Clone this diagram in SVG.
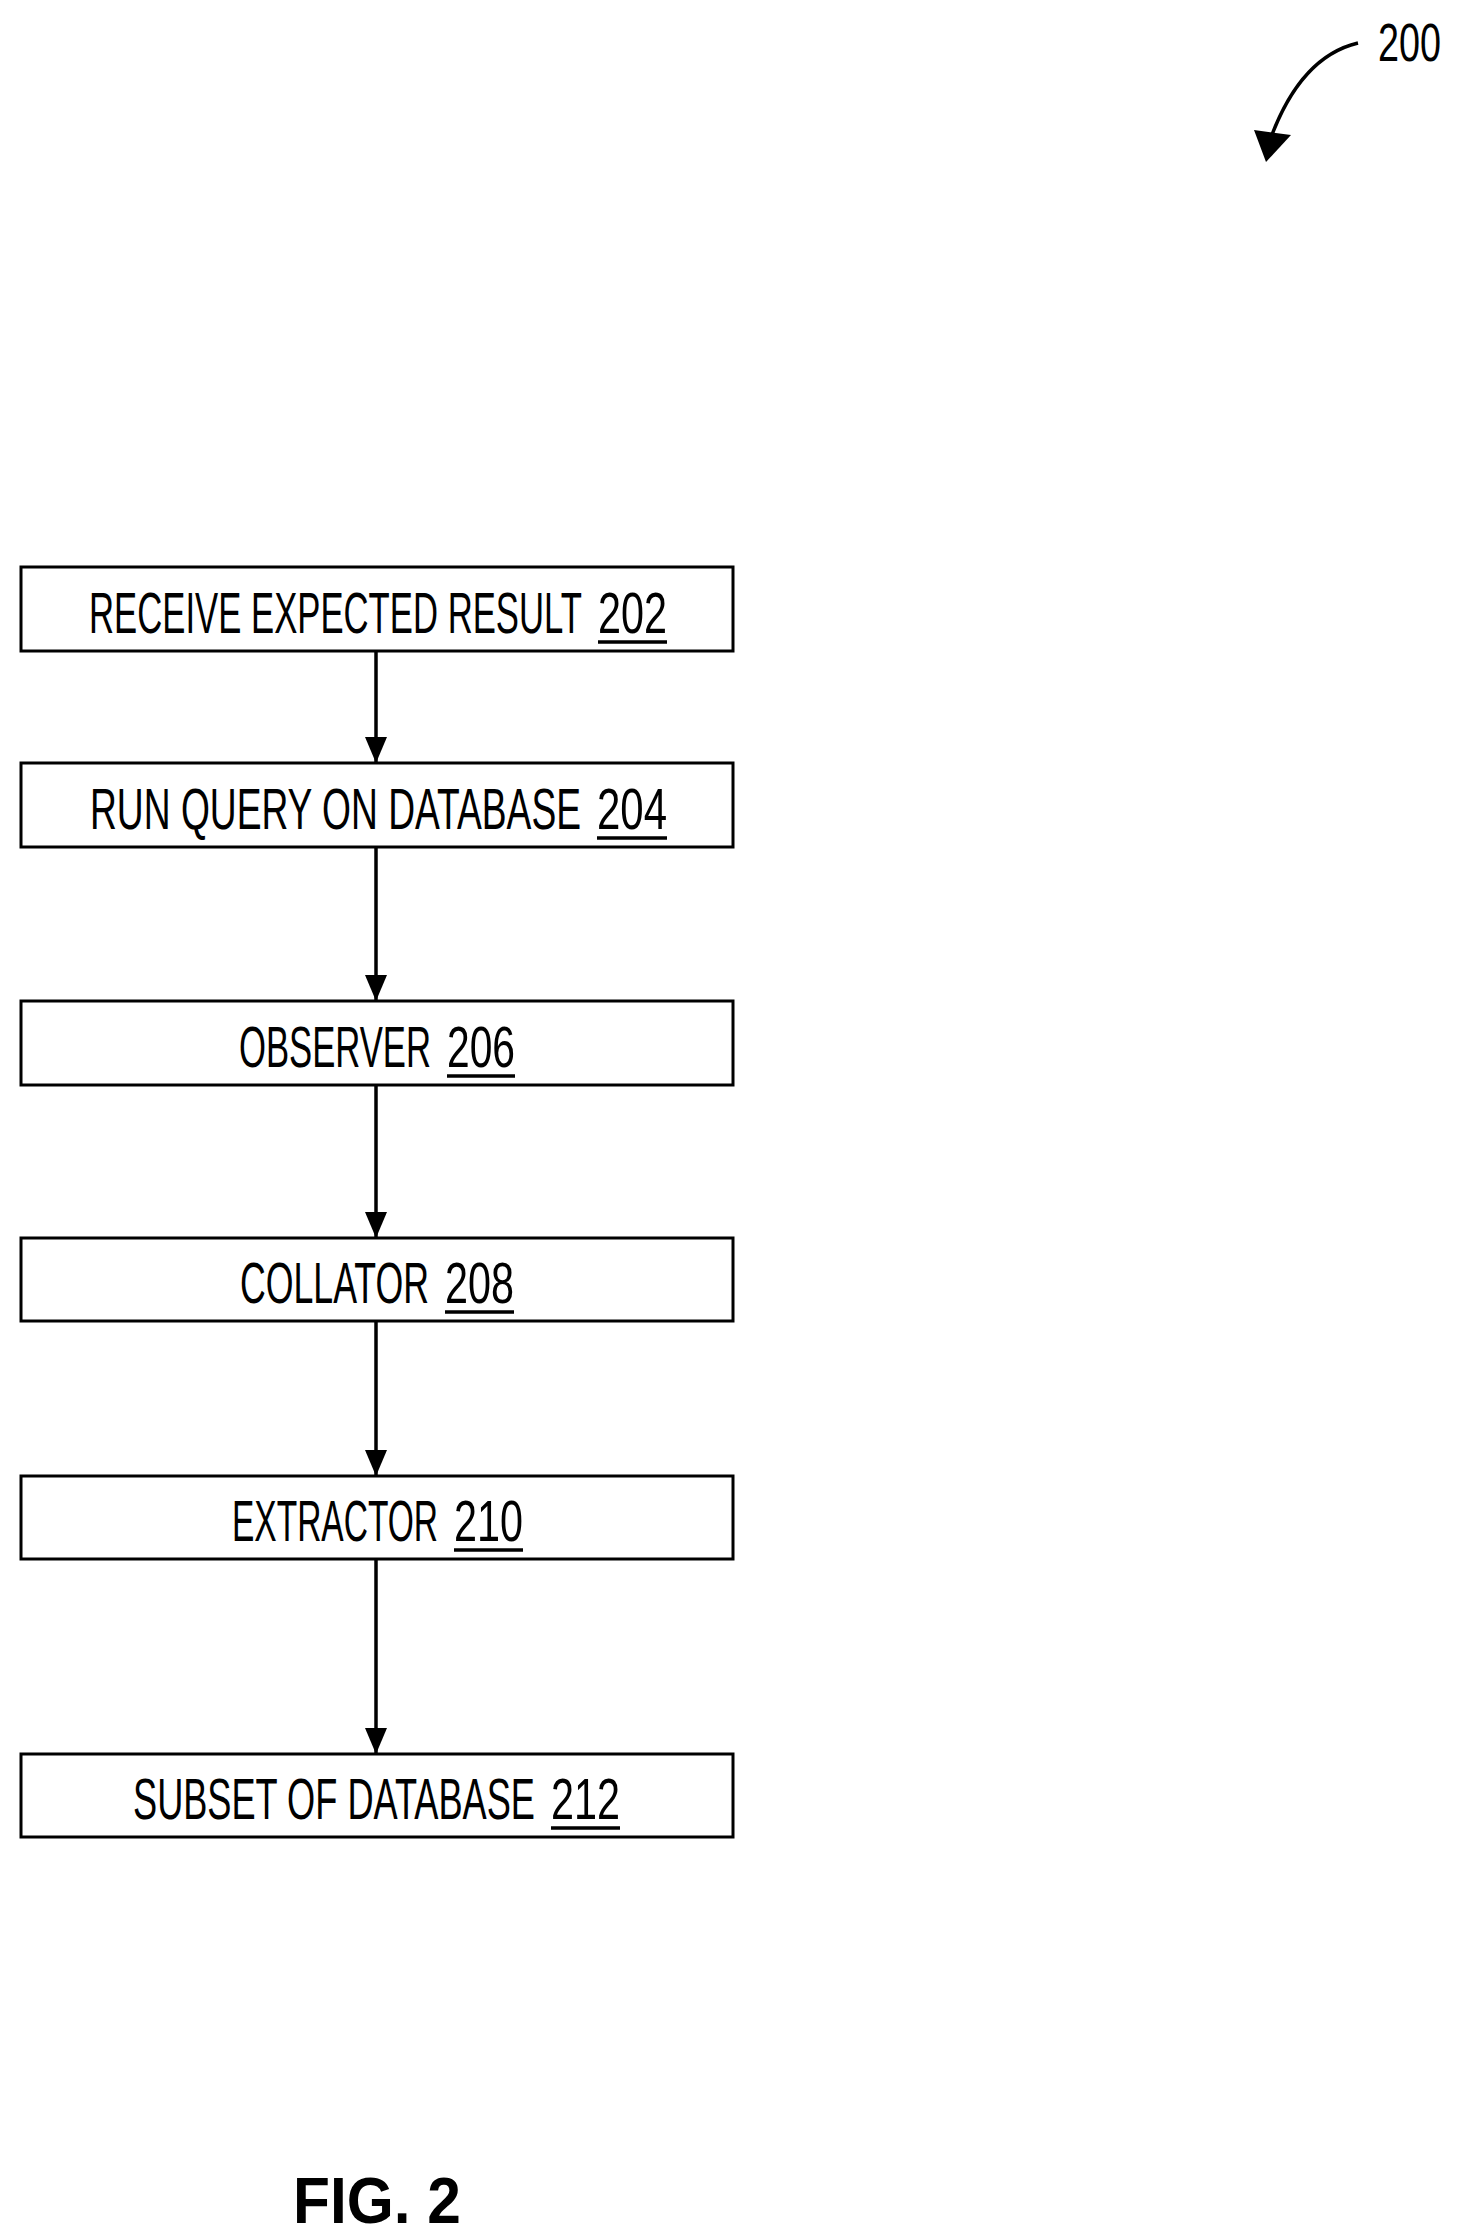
<svg xmlns="http://www.w3.org/2000/svg" width="1466" height="2239" viewBox="0 0 1466 2239">
<style>
.box{fill:#fff;stroke:#000;stroke-width:3}
.t{font-family:"Liberation Sans",sans-serif;font-size:57px;fill:#000}
.u{stroke:#000;stroke-width:3.5}
.c{stroke:#000;stroke-width:3.5;fill:none}
</style>
<defs>
<marker id="ah" markerWidth="26" markerHeight="22" refX="26" refY="11" orient="auto" markerUnits="userSpaceOnUse" viewBox="0 0 26 22">
<path d="M0,0 L26,11 L0,22 Z" fill="#000"/>
</marker>
</defs>
<rect width="1466" height="2239" fill="#fff"/>
<g id="ref200">
<text class="t" x="1378" y="61" textLength="63" lengthAdjust="spacingAndGlyphs" style="font-size:54px">200</text>
<path class="c" d="M1358,43 C1320,52 1290,85 1270,140"/>
<path d="M1254,130 L1291,135 L1266,162 Z" fill="#000"/>
</g>
<g id="connectors">
<line class="c" x1="376" y1="651" x2="376" y2="763" marker-end="url(#ah)"/>
<line class="c" x1="376" y1="847" x2="376" y2="1001" marker-end="url(#ah)"/>
<line class="c" x1="376" y1="1085" x2="376" y2="1238" marker-end="url(#ah)"/>
<line class="c" x1="376" y1="1321" x2="376" y2="1476" marker-end="url(#ah)"/>
<line class="c" x1="376" y1="1559" x2="376" y2="1754" marker-end="url(#ah)"/>
</g>
<g id="n202">
<rect class="box" x="21" y="567" width="712" height="84"/>
<text class="t" x="89" y="633" textLength="493" lengthAdjust="spacingAndGlyphs">RECEIVE EXPECTED RESULT</text>
<text class="t" x="598" y="633" textLength="69" lengthAdjust="spacingAndGlyphs">202</text>
<line class="u" x1="598" y1="642" x2="667" y2="642"/>
</g>
<g id="n204">
<rect class="box" x="21" y="763" width="712" height="84"/>
<text class="t" x="90" y="829" textLength="491" lengthAdjust="spacingAndGlyphs">RUN QUERY ON DATABASE</text>
<text class="t" x="597" y="829" textLength="70" lengthAdjust="spacingAndGlyphs">204</text>
<line class="u" x1="597" y1="838" x2="667" y2="838"/>
</g>
<g id="n206">
<rect class="box" x="21" y="1001" width="712" height="84"/>
<text class="t" x="239" y="1067" textLength="192" lengthAdjust="spacingAndGlyphs">OBSERVER</text>
<text class="t" x="447" y="1067" textLength="68" lengthAdjust="spacingAndGlyphs">206</text>
<line class="u" x1="447" y1="1076" x2="515" y2="1076"/>
</g>
<g id="n208">
<rect class="box" x="21" y="1238" width="712" height="83"/>
<text class="t" x="240" y="1303" textLength="189" lengthAdjust="spacingAndGlyphs">COLLATOR</text>
<text class="t" x="445" y="1303" textLength="69" lengthAdjust="spacingAndGlyphs">208</text>
<line class="u" x1="445" y1="1312" x2="514" y2="1312"/>
</g>
<g id="n210">
<rect class="box" x="21" y="1476" width="712" height="83"/>
<text class="t" x="232" y="1541" textLength="206" lengthAdjust="spacingAndGlyphs">EXTRACTOR</text>
<text class="t" x="454" y="1541" textLength="69" lengthAdjust="spacingAndGlyphs">210</text>
<line class="u" x1="454" y1="1550" x2="523" y2="1550"/>
</g>
<g id="n212">
<rect class="box" x="21" y="1754" width="712" height="83"/>
<text class="t" x="133" y="1819" textLength="402" lengthAdjust="spacingAndGlyphs">SUBSET OF DATABASE</text>
<text class="t" x="551" y="1819" textLength="69" lengthAdjust="spacingAndGlyphs">212</text>
<line class="u" x1="551" y1="1828" x2="620" y2="1828"/>
</g>
<text x="293" y="2223" font-family="Liberation Sans,sans-serif" font-weight="bold" font-size="64" textLength="168" lengthAdjust="spacingAndGlyphs">FIG. 2</text>
</svg>
